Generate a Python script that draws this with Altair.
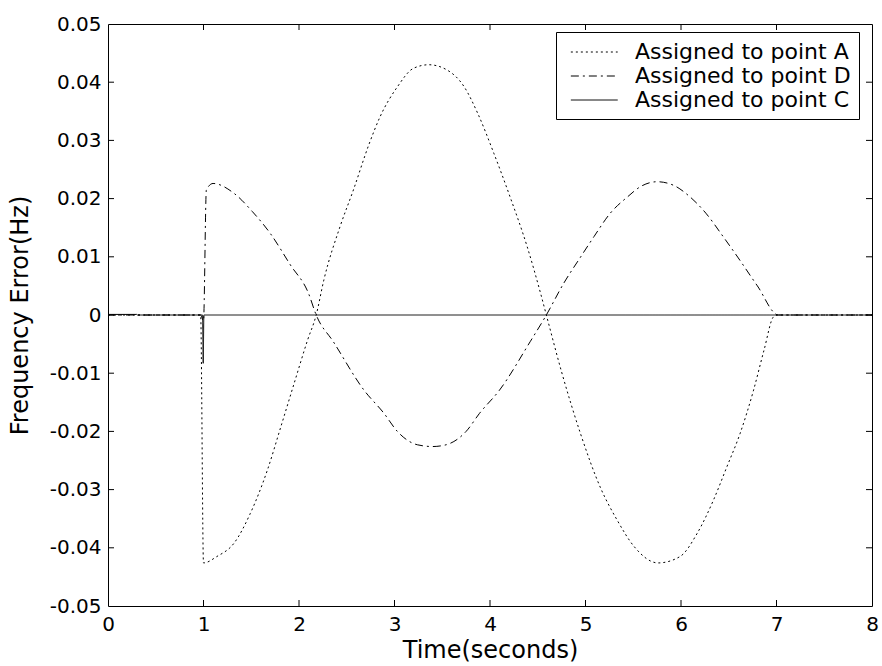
import altair as alt
import pandas as pd

# Series: frequency error (Hz) against time (s)
a_t = [0, 0.97, 1.0, 1.14, 1.32, 1.49, 1.67, 1.81, 1.95, 2.09, 2.18, 2.26, 2.43, 2.57,
       2.73, 2.85, 3.03, 3.20, 3.36, 3.55, 3.73, 3.87, 4.04, 4.21, 4.39, 4.53, 4.59,
       4.75, 4.95, 5.16, 5.33, 5.51, 5.76, 5.99, 6.17, 6.34, 6.48, 6.62, 6.76, 6.87,
       6.97, 7.02, 8.0]
a_v = [0, 0, -0.0426, -0.0415, -0.0392, -0.0341, -0.0266, -0.0192, -0.0117, -0.0043,
       0, 0.0060, 0.0152, 0.0215, 0.0292, 0.0341, 0.0392, 0.0424, 0.0430, 0.0421,
       0.0392, 0.0347, 0.0278, 0.0203, 0.0117, 0.0037, 0, -0.0098, -0.0205, -0.0298,
       -0.0352, -0.0398, -0.0426, -0.0415, -0.0375, -0.0318, -0.0261, -0.0203,
       -0.0129, -0.0060, -0.0003, 0, 0]

d_t = [0, 0.97, 1.0, 1.03, 1.1, 1.32, 1.51, 1.70, 1.91, 2.10, 2.18, 2.36, 2.68, 2.89,
       3.03, 3.24, 3.40, 3.54, 3.75, 3.89, 4.10, 4.42, 4.59, 4.77, 4.95, 5.09, 5.26,
       5.44, 5.58, 5.75, 5.92, 6.08, 6.26, 6.44, 6.60, 6.80, 7.02, 8.0]
d_v = [0, 0, -0.001, 0.0215, 0.0226, 0.0209, 0.0178, 0.0140, 0.0086, 0.0037, 0,
       -0.0046, -0.0129, -0.0169, -0.0200, -0.0223, -0.0226, -0.0223, -0.0200,
       -0.0169, -0.0129, -0.0046, 0, 0.0054, 0.0100, 0.0135, 0.0175, 0.0203, 0.0221,
       0.0229, 0.0223, 0.0205, 0.0175, 0.0135, 0.0098, 0.0050, 0, 0]

c_t = [0, 0.30, 0.31, 0.99, 0.997, 1.004, 8.0]
c_v = [0.0001, 0.0001, 0, 0, -0.0083, 0, 0]

series_names = ["Assigned to point A", "Assigned to point D", "Assigned to point C"]
series_dash = [[2, 3], [8, 4, 2, 4], [1, 0]]

x_ticks = [0, 1, 2, 3, 4, 5, 6, 7, 8]
y_ticks = [-0.05, -0.04, -0.03, -0.02, -0.01, 0, 0.01, 0.02, 0.03, 0.04, 0.05]

W, H = 764, 582
FONT = "DejaVu Sans"

rows = []
for name, ts, vs in zip(series_names, [a_t, d_t, c_t], [a_v, d_v, c_v]):
    for t, v in zip(ts, vs):
        rows.append({"series": name, "t": t, "v": v})
df = pd.DataFrame(rows)

xscale = alt.Scale(domain=[0, 8], nice=False, zero=False)
yscale = alt.Scale(domain=[-0.05, 0.05], nice=False, zero=False)

ylabel = ("datum.value == 0 ? '0' : (datum.value < 0 ? '-' : '') + "
          "format(abs(datum.value), '.2f')")

# a long horizontal line sample for the legend key
legend_symbol = "M-0.46,0H3.73"

lines = alt.Chart(df).mark_line(strokeWidth=1, color="black", interpolate="monotone").encode(
    x=alt.X("t:Q", scale=xscale, title="Time(seconds)",
            axis=alt.Axis(values=x_ticks, format="d")),
    y=alt.Y("v:Q", scale=yscale, title="Frequency Error(Hz)",
            axis=alt.Axis(values=y_ticks, labelExpr=ylabel)),
    strokeDash=alt.StrokeDash(
        "series:N",
        scale=alt.Scale(domain=series_names, range=series_dash),
        sort=series_names,
        legend=alt.Legend(
            title=None, orient="none", legendX=448, legendY=8,
            symbolType=legend_symbol, symbolSize=500, symbolStrokeWidth=1,
            symbolStrokeColor="black", symbolFillColor="transparent",
            labelFont=FONT, labelFontSize=22,
            labelColor="black", labelOffset=47, labelLimit=0, rowPadding=1,
            fillColor="white", strokeColor="black", padding=8,
        ),
    ),
    detail="series:N",
)

# inward tick marks on all four sides of the frame
inner_x = pd.DataFrame({"t": x_ticks[1:-1]})
inner_y = pd.DataFrame({"v": y_ticks[1:-1]})
tick_len = 6

bottom_ticks = alt.Chart(inner_x).mark_rule(color="black", strokeWidth=1).encode(
    x=alt.X("t:Q", scale=xscale), y=alt.value(H), y2=alt.value(H - tick_len))
top_ticks = alt.Chart(inner_x).mark_rule(color="black", strokeWidth=1).encode(
    x=alt.X("t:Q", scale=xscale), y=alt.value(0), y2=alt.value(tick_len))
left_ticks = alt.Chart(inner_y).mark_rule(color="black", strokeWidth=1).encode(
    y=alt.Y("v:Q", scale=yscale), x=alt.value(0), x2=alt.value(tick_len))
right_ticks = alt.Chart(inner_y).mark_rule(color="black", strokeWidth=1).encode(
    y=alt.Y("v:Q", scale=yscale), x=alt.value(W), x2=alt.value(W - tick_len))

chart = alt.layer(lines, bottom_ticks, top_ticks, left_ticks, right_ticks).properties(
    width=W, height=H,
    autosize=alt.AutoSizeParams(type="none"),
    padding={"left": 108, "top": 24, "right": 10, "bottom": 60},
    background="white",
).configure_view(
    stroke="black", strokeWidth=1,
).configure_axis(
    grid=False, domain=False, ticks=False, tickSize=0, labelFlush=False,
    labelFont=FONT, labelFontSize=20, labelColor="black",
    titleFont=FONT, titleFontSize=24, titleColor="black", titleFontWeight="normal",
).configure_axisX(
    labelPadding=8, titlePadding=4,
).configure_axisY(
    labelPadding=7, titlePadding=17,
)

chart.save("out.html", embed_options={"renderer": "svg", "actions": False})
